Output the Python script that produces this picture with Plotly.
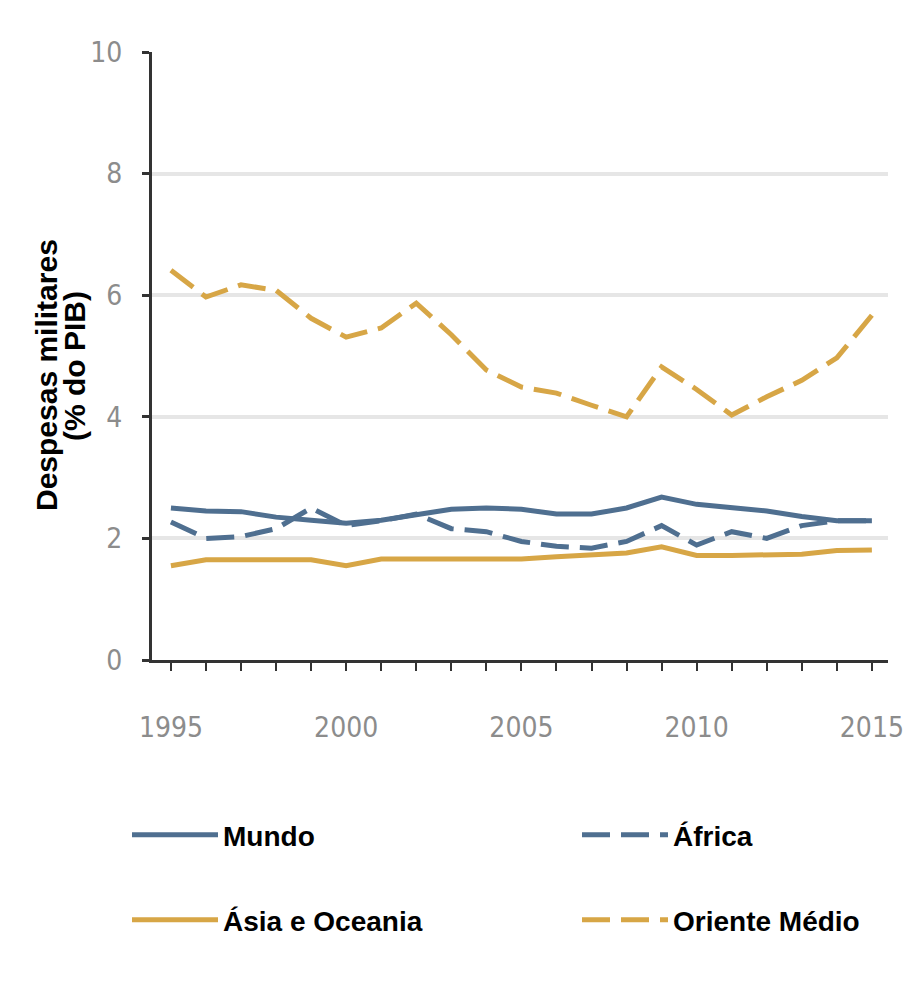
import plotly.graph_objects as go

years = list(range(1995, 2016))
mundo = [2.50, 2.45, 2.44, 2.35, 2.30, 2.25, 2.30, 2.38, 2.48, 2.50, 2.48,
         2.40, 2.40, 2.50, 2.68, 2.56, 2.50, 2.45, 2.36, 2.29, 2.29]
africa = [2.27, 2.00, 2.03, 2.16, 2.50, 2.21, 2.29, 2.40, 2.16, 2.11, 1.95,
          1.87, 1.84, 1.95, 2.21, 1.89, 2.11, 2.00, 2.21, 2.29, 2.29]
asia = [1.55, 1.65, 1.65, 1.65, 1.65, 1.55, 1.66, 1.66, 1.66, 1.66, 1.66,
        1.70, 1.72, 1.76, 1.86, 1.72, 1.72, 1.72, 1.74, 1.80, 1.81]
oriente = [6.41, 5.97, 6.17, 6.08, 5.62, 5.31, 5.46, 5.87, 5.35, 4.77, 4.49,
           4.39, 4.19, 4.00, 4.82, 4.45, 4.03, 4.33, 4.60, 4.97, 5.67]
xtick_labels = [str(y) if y % 5 == 0 else "" for y in years]
ytick_vals = [0, 2, 4, 6, 8, 10]

BLUE = "#4f6f90"
GOLD = "#d7a646"
DASH = "28px,11px"

fig = go.Figure()
fig.add_trace(go.Scatter(x=years, y=mundo, name="Mundo", mode="lines",
                         line=dict(color=BLUE, width=5), legend="legend"))
fig.add_trace(go.Scatter(x=years, y=africa, name="África", mode="lines",
                         line=dict(color=BLUE, width=5, dash=DASH), legend="legend2"))
fig.add_trace(go.Scatter(x=years, y=asia, name="Ásia e Oceania", mode="lines",
                         line=dict(color=GOLD, width=5), legend="legend3"))
fig.add_trace(go.Scatter(x=years, y=oriente, name="Oriente Médio", mode="lines",
                         line=dict(color=GOLD, width=5, dash=DASH), legend="legend4"))

tickfont = dict(family="Liberation Sans Narrow, DejaVu Sans Condensed, Arial Narrow, sans-serif",
                size=28, color="#8c8c8c")
legfont = dict(family="Liberation Sans, Arial, sans-serif", size=28, color="#000000", weight="bold")

# page body has an 8px margin, so the figure is 8px smaller than the window
W, H = 904, 999
L, R, T, B = 144, 24, 44, 347
pw = W - L - R


def leg(px, py):
    return dict(orientation="h", xref="container", yref="container",
                x=px / W, y=1 - py / H, xanchor="left", yanchor="middle",
                font=legfont, itemwidth=86, bgcolor="rgba(0,0,0,0)",
                itemclick=False, itemdoubleclick=False)


fig.update_layout(
    width=W, height=H,
    margin=dict(l=L, r=R, t=T, b=B, autoexpand=False),
    paper_bgcolor="white", plot_bgcolor="white",
    showlegend=True,
    xaxis=dict(range=[1994.46, 2015.46], tickvals=years, ticktext=xtick_labels,
               ticks="outside", ticklen=8, tickwidth=2, tickcolor="#333333",
               showline=True, linecolor="#333333", linewidth=3,
               showgrid=False, zeroline=False, tickfont=tickfont,
               ticklabelstandoff=32, fixedrange=True, automargin=False),
    yaxis=dict(range=[0, 10], tickvals=ytick_vals,
               ticks="outside", ticklen=7, tickwidth=3, tickcolor="#333333",
               showline=True, linecolor="#333333", linewidth=3,
               showgrid=True, gridcolor="#e6e6e6", gridwidth=4,
               zeroline=False, tickfont=tickfont, ticklabelstandoff=14,
               fixedrange=True, automargin=False),
    legend=leg(119, 827),
    legend2=leg(569, 827),
    legend3=leg(119, 912),
    legend4=leg(569, 912),
    annotations=[
        dict(text="Despesas militares", textangle=-90, xref="paper", yref="paper",
             x=(46 - 152) / pw, y=(660 - 375) / 608, xanchor="center", yanchor="middle",
             showarrow=False,
             font=dict(family="Liberation Sans, Arial, sans-serif", size=30,
                       color="#000000", weight="bold")),
        dict(text="(% do PIB)", textangle=-90, xref="paper", yref="paper",
             x=(74 - 152) / pw, y=(660 - 366) / 608, xanchor="center", yanchor="middle",
             showarrow=False,
             font=dict(family="Liberation Sans, Arial, sans-serif", size=30,
                       color="#000000", weight="bold")),
    ],
)

fig.write_html("out.html")
